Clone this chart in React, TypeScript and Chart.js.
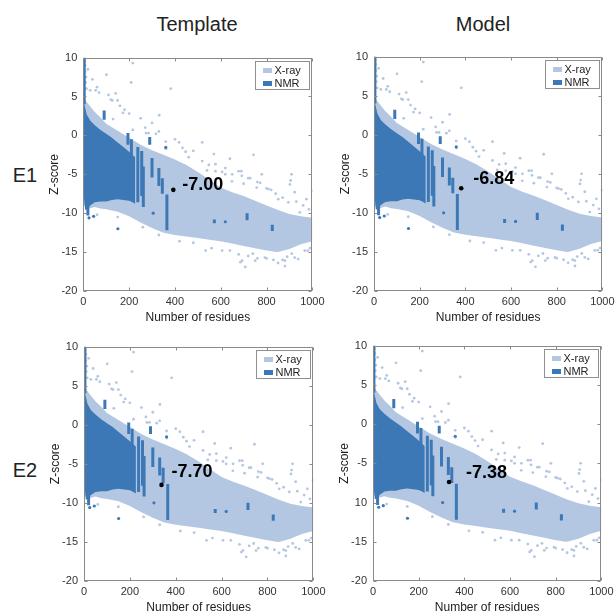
import React, { useEffect, useRef } from 'react';
import { Chart, registerables } from 'chart.js';
Chart.register(...registerables);

// ---------- data ----------
const xTicks = [0, 200, 400, 600, 800, 1000];
const xTickLabels = ['0', '200', '400', '600', '800', '1000'];
const yTicks = [10, 5, 0, -5, -10, -15, -20];
const yTickLabels = ['10', '5', '0', '-5', '-10', '-15', '-20'];
const yTickLabelsBR = ['10', '5', '0', '-5', '10', '-15', '-20'];

const columnTitles = ['Template', 'Model'];
const rowTitles = ['E1', 'E2'];
const legendLabels = ['X-ray', 'NMR'];
const xAxisTitle = 'Number of residues';
const yAxisTitle = 'Z-score';

// X-ray cloud envelope (residues, z-score)
const xrayBandX = [0, 10, 25, 50, 75, 100, 150, 200, 250, 300, 350, 400, 450, 500, 550, 600, 650, 700, 750, 800, 850, 900, 950, 1000];
const xrayUpper = [5.0, 4.5, 3.9, 3.0, 2.3, 1.5, 0.6, -0.3, -1.2, -1.9, -2.5, -3.1, -3.8, -4.7, -5.7, -6.7, -7.3, -7.8, -8.4, -9.0, -9.6, -10.1, -10.4, -10.6];
const xrayLower = [-8.8, -9.3, -9.4, -9.2, -9.4, -9.5, -9.8, -10.4, -11.2, -11.9, -12.5, -12.8, -13.0, -13.2, -13.4, -13.6, -13.9, -14.2, -14.5, -14.8, -15.0, -14.6, -14.0, -13.6];

// NMR cloud envelope
const nmrBandX = [0, 3, 8, 15, 30, 50, 75, 100, 125, 150, 175, 200, 215, 226];
const nmrUpper = [4.5, 4.2, 3.6, 2.7, 1.9, 1.3, 0.7, 0.2, -0.3, -0.9, -1.5, -2.1, -2.5, -2.8];
const nmrLower = [-5.5, -8.0, -9.6, -9.5, -9.0, -8.6, -8.5, -8.5, -8.3, -8.2, -8.3, -8.4, -8.6, -8.8];

// scattered X-ray structures outside the dense cloud
const xrayOutX = [216, 101, 209, 69, 141, 382, 40, 30, 120, 160, 200, 270, 300, 330, 360, 400, 433, 460, 519, 519, 570, 577, 606, 620, 650, 690, 720, 743, 760, 779, 800, 840, 870, 909, 905, 902, 930, 960, 999, 985, 480, 540, 640, 700, 820, 250, 285, 180, 150, 110, 60, 20, 8, 8, 12, 10, 14, 6,
  548, 577, 620, 649, 678, 692, 728, 757, 772, 808, 851, 895, 923, 974, 945, 130, 173, 216, 274, 317, 361, 418, 447, 331, 54, 126,
  693, 686, 880, 870, 938, 720, 760, 800, 850, 910, 980, 640, 560, 480, 420, 330, 260, 150, 60, 990, 890, 830, 740,
  678, 750, 793, 837, 880, 923, 967, 606, 534, 707];
const xrayOutZ = [9.3, 7.8, 6.8, 5.5, 5.4, 6.0, 7.2, 5.8, 4.6, 3.8, 2.8, 1.0, 1.6, 0.5, -0.8, -0.5, -1.6, -2.8, -0.9, -3.3, -2.4, -3.7, -4.7, -4.2, -5.0, -4.6, -5.5, -2.5, -6.0, -5.0, -6.8, -7.5, -8.0, -5.0, -5.8, -6.3, -8.5, -9.0, -7.1, -9.5, -2.0, -4.5, -3.0, -6.2, -7.0, 2.2, 0.3, 3.3, 4.5, 5.2, 6.2, 8.5, 9.0, 8.2, 7.5, 6.8, 6.0, 9.6,
  -3.8, -4.6, -5.0, -5.9, -4.6, -5.2, -5.5, -6.7, -6.1, -6.9, -8.2, -8.6, -7.3, -8.2, -9.9, 2.1, 2.9, 0.7, 0.3, 0.2, -1.7, -0.9, -2.1, 2.6, 5.8, 4.5,
  -16.1, -16.3, -16.8, -16.0, -15.9, -15.5, -15.8, -15.8, -16.4, -15.2, -14.8, -14.8, -14.5, -13.8, -13.6, -12.8, -11.8, -10.5, -10.2, -14.5, -15.6, -16.0, -15.2,
  -15.3, -16.1, -15.7, -14.8, -16.1, -15.7, -14.8, -14.8, -14.8, -16.9];

// isolated NMR structures
const nmrOutX = [360, 151, 305, 620, 45, 25];
const nmrOutZ = [-1.55, -12.0, -10.0, -11.1, -10.4, -10.6];

// vertical NMR streaks (residues, top z, bottom z)
const nmrStreakX = [4, 91, 195, 210, 238, 255, 262, 290, 300, 330, 345, 365, 572, 715, 825, 20];
const nmrStreakTop = [10, 3.2, 0.3, -0.5, -1.5, -2.0, -4.0, -0.2, -2.9, -4.2, -5.5, -7.6, -10.8, -10.0, -11.5, -8.5];
const nmrStreakBottom = [4.0, 2.0, -1.2, -3.0, -8.6, -7.8, -9.2, -1.2, -5.4, -6.5, -7.5, -12.2, -11.3, -10.9, -12.3, -10.3];

// the evaluated structure in each panel (E1 template, E1 model, E2 template, E2 model)
const markerResidues = [393, 382, 338, 333];
const markerScores = [-7.0, -6.84, -7.7, -7.38];
const markerLabels = ['-7.00', '-6.84', '-7.70', '-7.38'];

// ---------- styles / layout ----------
const FONT = '"Liberation Sans", Arial, Helvetica, sans-serif';
const LIGHT = '#b3c7e3';
const DARK = '#3c78b5';

const panelLayouts = [
  { L: 83.3, R: 314, T: 54.5, B: 291, dx: 9, dy: -5 },
  { L: 374, R: 604, T: 54, B: 291, dx: 12, dy: -9 },
  { L: 84, R: 315, T: 344, B: 581, dx: 10, dy: -13 },
  { L: 373, R: 603, T: 343.3, B: 581, dx: 17, dy: -9 },
];

function drawBand(ctx: any, xs: any, ys: any, bx: number[], up: number[], lo: number[], color: string) {
  ctx.beginPath();
  bx.forEach((x, i) => {
    const px = xs.getPixelForValue(x), py = ys.getPixelForValue(up[i]);
    if (i === 0) ctx.moveTo(px, py); else ctx.lineTo(px, py);
  });
  for (let i = bx.length - 1; i >= 0; i--) {
    ctx.lineTo(xs.getPixelForValue(bx[i]), ys.getPixelForValue(lo[i]));
  }
  ctx.closePath();
  ctx.fillStyle = color;
  ctx.fill();
}

function Panel({ idx }: { idx: number }) {
  const ref = useRef<HTMLCanvasElement>(null);
  const lay = panelLayouts[idx];
  const canvasLeft = Math.round(lay.L - 36.5);
  const canvasTop = Math.round(lay.T - 10);
  const yAxisWidth = lay.L - canvasLeft;
  const padTop = lay.T - canvasTop;
  const width = Math.ceil(lay.R - canvasLeft + 15);
  const padRight = width - (lay.R - canvasLeft);
  const height = Math.ceil(lay.B + 33.7 - canvasTop);
  const xAxisHeight = height - (lay.B - canvasTop);
  const yLabels = idx === 3 ? yTickLabelsBR : yTickLabels;

  useEffect(() => {
    if (!ref.current) return;
    const datasets: any[] = [];
    datasets.push({
      data: [{ x: markerResidues[idx], y: markerScores[idx] }],
      showLine: false, pointRadius: 2.3, pointBackgroundColor: '#000', pointBorderWidth: 0, order: 0,
    });
    datasets.push({
      data: nmrOutX.map((x, i) => ({ x, y: nmrOutZ[i] })),
      showLine: false, pointRadius: 1.6, pointBackgroundColor: DARK, pointBorderWidth: 0, order: 1,
    });
    nmrStreakX.forEach((x, i) => {
      datasets.push({
        data: [{ x, y: nmrStreakTop[i] }, { x, y: nmrStreakBottom[i] }],
        showLine: true, borderColor: DARK, borderWidth: 3, borderCapStyle: 'butt', pointRadius: 0, fill: false, order: 2,
      });
    });
    datasets.push({
      data: xrayOutX.map((x, i) => ({ x, y: xrayOutZ[i] })),
      showLine: false, pointRadius: 1.4, pointBackgroundColor: LIGHT, pointBorderWidth: 0, order: 4,
    });

    const overlay = {
      id: 'overlay',
      beforeDatasetsDraw(chart: any) {
        const { ctx, chartArea: a, scales } = chart;
        ctx.save();
        ctx.beginPath();
        ctx.rect(a.left, a.top, a.right - a.left, a.bottom - a.top);
        ctx.clip();
        drawBand(ctx, scales.x, scales.y, xrayBandX, xrayUpper, xrayLower, LIGHT);
        drawBand(ctx, scales.x, scales.y, nmrBandX, nmrUpper, nmrLower, DARK);
        ctx.restore();
      },
      afterDatasetsDraw(chart: any) {
        const { ctx, chartArea: a, scales } = chart;
        const xs = scales.x, ys = scales.y;
        ctx.save();
        ctx.strokeStyle = '#8a8a8a';
        ctx.lineWidth = 1;
        const l = Math.round(a.left) + 0.5, t = Math.round(a.top) + 0.5;
        const r = Math.round(a.right) - 0.5, b = Math.round(a.bottom) - 0.5;
        ctx.strokeRect(l, t, r - l, b - t);
        ctx.beginPath();
        xTicks.forEach((v) => {
          const px = Math.round(xs.getPixelForValue(v)) + 0.5;
          ctx.moveTo(px, b); ctx.lineTo(px, b - 3);
          ctx.moveTo(px, t); ctx.lineTo(px, t + 3);
        });
        yTicks.forEach((v) => {
          const py = Math.round(ys.getPixelForValue(v)) + 0.5;
          ctx.moveTo(l, py); ctx.lineTo(l + 3, py);
          ctx.moveTo(r, py); ctx.lineTo(r - 3, py);
        });
        ctx.stroke();

        const mx = xs.getPixelForValue(markerResidues[idx]);
        const my = ys.getPixelForValue(markerScores[idx]);
        ctx.font = `bold 18px ${FONT}`;
        ctx.fillStyle = '#000';
        ctx.textAlign = 'left';
        ctx.textBaseline = 'middle';
        ctx.fillText(markerLabels[idx], mx + lay.dx, my + lay.dy);

        const bw = 54, bh = 28;
        const bx = Math.round(a.right - 3 - bw) + 0.5, by = Math.round(a.top + 3) + 0.5;
        ctx.fillStyle = '#fff';
        ctx.fillRect(bx, by, bw, bh);
        ctx.strokeStyle = '#8f8f8f';
        ctx.strokeRect(bx, by, bw, bh);
        const colors = [LIGHT, DARK];
        ctx.font = `11px ${FONT}`;
        legendLabels.forEach((lab, i) => {
          const ry = by + 9 + i * 13;
          ctx.fillStyle = colors[i];
          ctx.fillRect(bx + 7.5, ry - 2.5, 9, 5);
          ctx.fillStyle = '#222';
          ctx.fillText(lab, bx + 19, ry + 0.5);
        });
        ctx.restore();
      },
    };

    const chart = new Chart(ref.current, {
      type: 'line',
      data: { datasets },
      plugins: [overlay],
      options: {
        animation: false,
        responsive: false,
        devicePixelRatio: 1,
        events: [],
        layout: { padding: { top: padTop, right: padRight, left: 0, bottom: 0 } },
        plugins: { legend: { display: false }, tooltip: { enabled: false } },
        elements: { line: { tension: 0 } },
        scales: {
          x: {
            type: 'linear', min: 0, max: 1000,
            afterBuildTicks: (s: any) => { s.ticks = xTicks.map((v) => ({ value: v })); },
            afterFit: (s: any) => { s.height = xAxisHeight; },
            ticks: {
              callback: (_v: any, i: number) => xTickLabels[i],
              padding: 4.4, maxRotation: 0, autoSkip: false,
              font: { size: 11, family: FONT }, color: '#333',
            },
            grid: { display: false, drawTicks: false },
            border: { display: false },
            title: { display: true, text: xAxisTitle, padding: 0, font: { size: 12, family: FONT }, color: '#222' },
          },
          y: {
            type: 'linear', min: -20, max: 10,
            afterBuildTicks: (s: any) => { s.ticks = yTicks.map((v) => ({ value: v })); },
            afterFit: (s: any) => { s.width = yAxisWidth; },
            ticks: {
              callback: (_v: any, i: number) => yLabels[i],
              padding: 6, autoSkip: false,
              font: { size: 11, family: FONT }, color: '#333',
            },
            grid: { display: false, drawTicks: false },
            border: { display: false },
            title: { display: true, text: yAxisTitle, padding: 0, font: { size: 12, family: FONT }, color: '#222' },
          },
        },
      } as any,
    });
    return () => chart.destroy();
  }, []);

  return (
    <canvas
      ref={ref}
      width={width}
      height={height}
      style={{ position: 'absolute', left: canvasLeft, top: canvasTop, width, height }}
    />
  );
}

const textStyle = (cx: number, cy: number): React.CSSProperties => ({
  position: 'absolute', left: cx - 100, top: cy - 12, width: 200, height: 24, lineHeight: '24px',
  textAlign: 'center', fontSize: 20, fontFamily: FONT, color: '#222',
});

export default function App() {
  return (
    <div style={{ position: 'absolute', left: 0, top: 0, width: 616, height: 612, overflow: 'hidden', background: '#fff' }}>
      <div style={textStyle(197, 24)}>{columnTitles[0]}</div>
      <div style={textStyle(483, 24)}>{columnTitles[1]}</div>
      <div style={textStyle(25, 175)}>{rowTitles[0]}</div>
      <div style={textStyle(25, 470)}>{rowTitles[1]}</div>
      {[0, 1, 2, 3].map((i) => <Panel key={i} idx={i} />)}
    </div>
  );
}
